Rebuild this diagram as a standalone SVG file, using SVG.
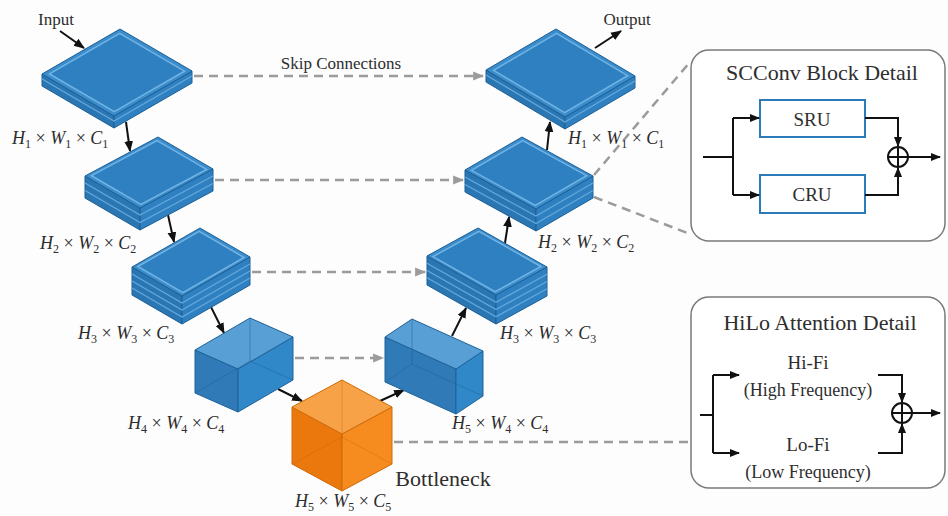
<svg xmlns="http://www.w3.org/2000/svg" width="948" height="516" viewBox="0 0 948 516">
<defs>
<style>
.top{fill:#3a8dcc;stroke:#1d5f95;stroke-width:1;stroke-linejoin:round}
.rim{fill:#2f80c0;stroke:#72b3e4;stroke-width:1.5}
.sl{fill:#2a76b3;stroke:#1d5f95;stroke-width:1;stroke-linejoin:round}
.sr{fill:#2f80c0;stroke:#1d5f95;stroke-width:1;stroke-linejoin:round}
.lay{fill:none;stroke:#64a8dc;stroke-width:1.3}
.ttop{fill:#579fd4;stroke:#1f6299;stroke-width:1;stroke-linejoin:round}
.tl{fill:#2f7ab7;stroke:#1f6299;stroke-width:1;stroke-linejoin:round}
.tr{fill:#3088c8;stroke:#1f6299;stroke-width:1;stroke-linejoin:round}
.hid{fill:none;stroke:#1f5f92;stroke-width:1;opacity:.45}
.otop{fill:#f7a246;stroke:#cf6a08;stroke-width:1;stroke-linejoin:round}
.ol{fill:#ea780d;stroke:#cf6a08;stroke-width:1;stroke-linejoin:round}
.or{fill:#f68b20;stroke:#cf6a08;stroke-width:1;stroke-linejoin:round}
.ohid{fill:none;stroke:#c45f00;stroke-width:1;opacity:.35}
.arr{fill:none;stroke:#111;stroke-width:2;marker-end:url(#ah)}
.skip{fill:none;stroke:#9b9b9b;stroke-width:2.5;stroke-dasharray:9 6}
.skipa{marker-end:url(#gh)}
.dim{font-family:"Liberation Serif","DejaVu Serif",serif;font-style:italic;font-size:18px;fill:#2c2c2c}
.s{font-size:12px;font-style:normal}
.x{font-style:normal}
.lbl{font-family:"Liberation Serif","DejaVu Serif",serif;fill:#2e2e2e}
.box{fill:#fff;stroke:#7a7a7a;stroke-width:1.5}
.ubox{fill:#fff;stroke:#2b7bb9;stroke-width:2}
.ln{fill:none;stroke:#111;stroke-width:2}
.da{fill:none;stroke:#111;stroke-width:2;marker-end:url(#sh)}
</style>
<marker id="ah" viewBox="0 0 10 10" refX="9" refY="5" markerWidth="11" markerHeight="11" markerUnits="userSpaceOnUse" orient="auto"><path d="M0,1 L10,5 L0,9 z" fill="#111"/></marker>
<marker id="sh" viewBox="0 0 10 10" refX="9" refY="5" markerWidth="10" markerHeight="10" markerUnits="userSpaceOnUse" orient="auto"><path d="M0,1 L10,5 L0,9 z" fill="#111"/></marker>
<marker id="gh" viewBox="0 0 10 10" refX="9" refY="5" markerWidth="11" markerHeight="11" markerUnits="userSpaceOnUse" orient="auto"><path d="M0,1 L10,5 L0,9 z" fill="#9b9b9b"/></marker>
</defs>
<rect width="948" height="516" fill="#fdfdfd"/>

<g id="connectors">
<path class="skip skipa" d="M194,76 H483"/>
<path class="skip skipa" d="M215,180 H463"/>
<path class="skip skipa" d="M252,272 H425"/>
<path class="skip skipa" d="M295,358 H383"/>
<path class="skip" d="M394,442 H691"/>
<path class="skip" d="M594,175 L690,62"/>
<path class="skip" d="M594,197 L690,234"/>
<path class="arr" d="M60,31 L84,48"/>
<path class="arr" d="M595,48 L621,31"/>
<path class="arr" d="M126,122 L130,151"/>
<path class="arr" d="M168,215 L174,242"/>
<path class="arr" d="M211,307 L224,333"/>
<path class="arr" d="M278,389 L302,401"/>
<path class="arr" d="M380,401 L404,390"/>
<path class="arr" d="M452,336 L466,308"/>
<path class="arr" d="M505,243 L509,217"/>
<path class="arr" d="M547,150 L550,122"/>
</g>

<g id="enc1">
<polygon class="sl" points="42,74 114,116 114,128 42,86"/>
<polygon class="sr" points="114,116 192,71 192,83 114,128"/>
<polyline class="lay" points="42,79 114,121 192,76"/>
<polygon class="top" points="42,74 120,29 192,71 114,116"/>
<polygon class="rim" points="49.5,73.9 119.7,33.4 184.5,71.2 114.3,111.7"/>
</g>
<g id="enc2">
<polygon class="sl" points="85,176 140,208 140,230 85,198"/>
<polygon class="sr" points="140,208 213,169 213,191 140,230"/>
<polyline class="lay" points="85,183 140,215 213,176"/>
<polyline class="lay" points="85,190.5 140,222.5 213,183.5"/>
<polygon class="top" points="85,176 158,137 213,169 140,208"/>
<polygon class="rim" points="91.4,175.7 157.1,140.6 206.6,169.4 140.9,204.5"/>
</g>
<g id="enc3">
<polygon class="sl" points="132,267 182,296 182,324 132,295"/>
<polygon class="sr" points="182,296 250,257 250,285 182,324"/>
<polyline class="lay" points="132,274 182,303 250,264"/>
<polyline class="lay" points="132,281 182,310 250,271"/>
<polyline class="lay" points="132,288 182,317 250,278"/>
<polygon class="top" points="132,267 200,228 250,257 182,296"/>
<polygon class="rim" points="137.9,266.5 199.1,231.4 244.1,257.5 182.9,292.6"/>
</g>
<g id="enc4">
<polygon class="tl" points="195,350 238,369 238,412 195,393"/>
<polygon class="tr" points="238,369 293,337 293,380 238,412"/>
<polygon class="ttop" points="195,350 250,318 293,337 238,369"/>
<polyline class="hid" points="195,393 250,361 293,380"/>
<line class="hid" x1="250" y1="318" x2="250" y2="361"/>
</g>
<g id="bottleneck">
<polygon class="ol" points="292,407 342,434 342,491 292,464"/>
<polygon class="or" points="342,434 392,407 392,464 342,491"/>
<polygon class="otop" points="292,407 342,380 392,407 342,434"/>
<polyline class="ohid" points="292,464 342,437 392,464"/>
<line class="ohid" x1="342" y1="380" x2="342" y2="437"/>
</g>
<g id="dec4">
<polygon class="tl" points="385,337 456,369 456,414 385,382"/>
<polygon class="tr" points="456,369 483,351 483,396 456,414"/>
<polygon class="ttop" points="385,337 412,319 483,351 456,369"/>
<polyline class="hid" points="385,382 412,364 483,396"/>
<line class="hid" x1="412" y1="319" x2="412" y2="364"/>
</g>
<g id="dec3">
<polygon class="sl" points="427,256 496,295 496,324 427,285"/>
<polygon class="sr" points="496,295 547,267 547,296 496,324"/>
<polyline class="lay" points="427,263.25 496,302.25 547,274.25"/>
<polyline class="lay" points="427,270.5 496,309.5 547,281.5"/>
<polyline class="lay" points="427,277.75 496,316.75 547,288.75"/>
<polygon class="top" points="427,256 478,228 547,267 496,295"/>
<polygon class="rim" points="433,256.6 478.9,231.4 541,266.5 495.1,291.7"/>
</g>
<g id="dec2">
<polygon class="sl" points="465,170 536,209 536,231 465,192"/>
<polygon class="sr" points="536,209 593,176 593,198 536,231"/>
<polyline class="lay" points="465,177 536,216 593,183"/>
<polyline class="lay" points="465,184.5 536,223.5 593,190.5"/>
<polygon class="top" points="465,170 522,137 593,176 536,209"/>
<polygon class="rim" points="471.4,170.3 522.7,140.6 586.6,175.7 535.3,205.4"/>
</g>
<g id="dec1">
<polygon class="sl" points="486,70 565,117 565,129 486,82"/>
<polygon class="sr" points="565,117 635,76 635,88 565,129"/>
<polyline class="lay" points="486,75 565,122 635,81"/>
<polygon class="top" points="486,70 556,29 635,76 565,117"/>
<polygon class="rim" points="493.5,70.3 556.5,33.4 627.6,75.7 564.6,112.6"/>
</g>

<g id="labels">
<text class="lbl" x="56" y="25" font-size="17" text-anchor="middle">Input</text>
<text class="lbl" x="627" y="25" font-size="17" text-anchor="middle">Output</text>
<text class="lbl" x="341" y="69" font-size="17" text-anchor="middle">Skip Connections</text>
<text class="lbl" x="443" y="486" font-size="22" text-anchor="middle">Bottleneck</text>
<text class="dim" x="12" y="144">H<tspan class="s" dy="4">1</tspan><tspan class="x" dy="-4"> × </tspan>W<tspan class="s" dy="4">1</tspan><tspan class="x" dy="-4"> × </tspan>C<tspan class="s" dy="4">1</tspan></text>
<text class="dim" x="568" y="144">H<tspan class="s" dy="4">1</tspan><tspan class="x" dy="-4"> × </tspan>W<tspan class="s" dy="4">1</tspan><tspan class="x" dy="-4"> × </tspan>C<tspan class="s" dy="4">1</tspan></text>
<text class="dim" x="40" y="249">H<tspan class="s" dy="4">2</tspan><tspan class="x" dy="-4"> × </tspan>W<tspan class="s" dy="4">2</tspan><tspan class="x" dy="-4"> × </tspan>C<tspan class="s" dy="4">2</tspan></text>
<text class="dim" x="538" y="248">H<tspan class="s" dy="4">2</tspan><tspan class="x" dy="-4"> × </tspan>W<tspan class="s" dy="4">2</tspan><tspan class="x" dy="-4"> × </tspan>C<tspan class="s" dy="4">2</tspan></text>
<text class="dim" x="78" y="339">H<tspan class="s" dy="4">3</tspan><tspan class="x" dy="-4"> × </tspan>W<tspan class="s" dy="4">3</tspan><tspan class="x" dy="-4"> × </tspan>C<tspan class="s" dy="4">3</tspan></text>
<text class="dim" x="500" y="339">H<tspan class="s" dy="4">3</tspan><tspan class="x" dy="-4"> × </tspan>W<tspan class="s" dy="4">3</tspan><tspan class="x" dy="-4"> × </tspan>C<tspan class="s" dy="4">3</tspan></text>
<text class="dim" x="128" y="429">H<tspan class="s" dy="4">4</tspan><tspan class="x" dy="-4"> × </tspan>W<tspan class="s" dy="4">4</tspan><tspan class="x" dy="-4"> × </tspan>C<tspan class="s" dy="4">4</tspan></text>
<text class="dim" x="452" y="429">H<tspan class="s" dy="4">5</tspan><tspan class="x" dy="-4"> × </tspan>W<tspan class="s" dy="4">4</tspan><tspan class="x" dy="-4"> × </tspan>C<tspan class="s" dy="4">4</tspan></text>
<text class="dim" x="295" y="507">H<tspan class="s" dy="4">5</tspan><tspan class="x" dy="-4"> × </tspan>W<tspan class="s" dy="4">5</tspan><tspan class="x" dy="-4"> × </tspan>C<tspan class="s" dy="4">5</tspan></text>
</g>

<g id="scconv">
<rect class="box" x="691" y="50" width="254" height="191" rx="18"/>
<text class="lbl" x="822" y="80" font-size="22" text-anchor="middle">SCConv Block Detail</text>
<rect class="ubox" x="760" y="100" width="105" height="37"/>
<text class="lbl" x="812" y="126" font-size="19" text-anchor="middle">SRU</text>
<rect class="ubox" x="760" y="175" width="105" height="38"/>
<text class="lbl" x="812" y="201" font-size="19" text-anchor="middle">CRU</text>
<path class="ln" d="M703,157 H733"/>
<path class="ln" d="M733,118 V195"/>
<path class="da" d="M733,118 H759"/>
<path class="da" d="M733,195 H759"/>
<path class="da" d="M865,118 H898 V146"/>
<path class="da" d="M865,195 H898 V168"/>
<circle cx="898" cy="157" r="10" fill="none" stroke="#111" stroke-width="2"/>
<path class="ln" d="M888,157 H908 M898,147 V167"/>
<path class="da" d="M908,157 H940"/>
</g>

<g id="hilo">
<rect class="box" x="691" y="297" width="254" height="191" rx="18"/>
<text class="lbl" x="820" y="330" font-size="22" text-anchor="middle">HiLo Attention Detail</text>
<text class="lbl" x="808" y="369" font-size="19" text-anchor="middle">Hi-Fi</text>
<text class="lbl" x="808" y="396" font-size="18" text-anchor="middle">(High Frequency)</text>
<text class="lbl" x="808" y="451" font-size="19" text-anchor="middle">Lo-Fi</text>
<text class="lbl" x="808" y="478" font-size="18" text-anchor="middle">(Low Frequency)</text>
<path class="ln" d="M700,415 H713"/>
<path class="ln" d="M713,375 V453"/>
<path class="da" d="M713,375 H739"/>
<path class="da" d="M713,453 H739"/>
<path class="da" d="M878,375 H902 V402"/>
<path class="da" d="M878,453 H902 V424"/>
<circle cx="902" cy="413" r="10" fill="none" stroke="#111" stroke-width="2"/>
<path class="ln" d="M892,413 H912 M902,403 V423"/>
<path class="da" d="M912,413 H940"/>
</g>
</svg>
